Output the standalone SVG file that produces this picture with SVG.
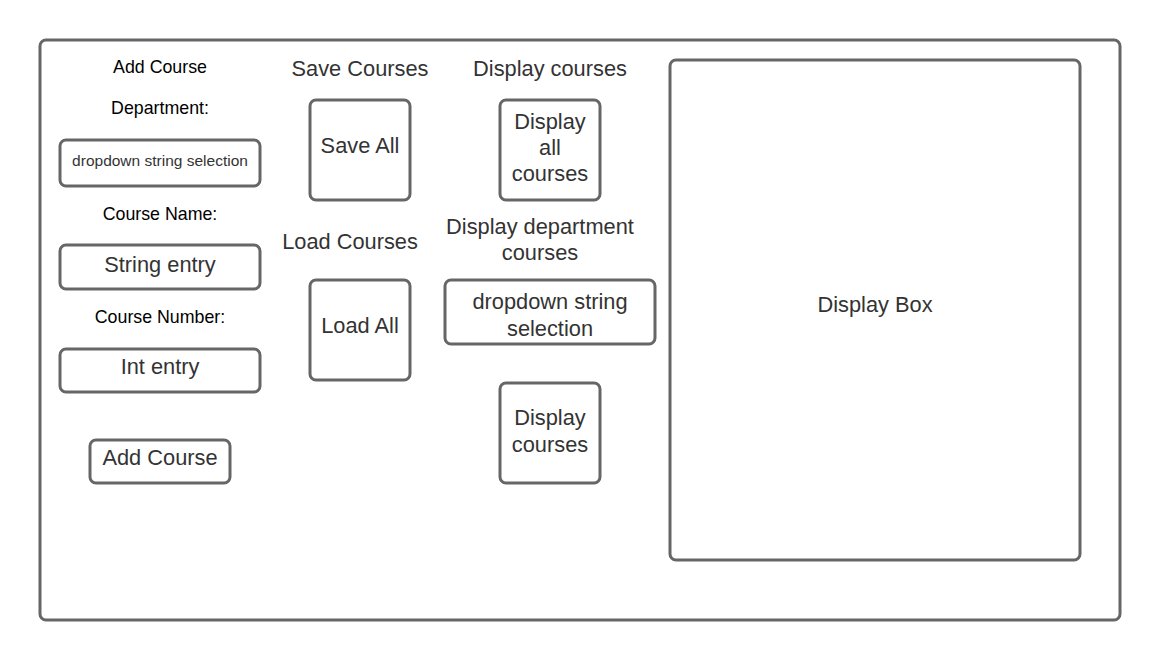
<svg xmlns="http://www.w3.org/2000/svg" width="1160" height="660" viewBox="0 0 1160 660">
<style>
.box{fill:#fff;stroke:#666;stroke-width:3}
.t{font-family:"Liberation Sans",Arial,sans-serif;fill:#333;text-anchor:middle;font-size:21.8px}
.s{font-family:"Liberation Sans",Arial,sans-serif;fill:#000;text-anchor:middle;font-size:17.8px}
.xs{font-family:"Liberation Sans",Arial,sans-serif;fill:#333;text-anchor:middle;font-size:15.5px}
</style>
<rect width="1160" height="660" fill="#fff"/>
<g id="frame"><rect class="box" x="40" y="40" width="1080" height="580" rx="6"/></g>
<g id="add-course-title"><text class="s" x="160" y="73">Add Course</text></g>
<g id="department-label"><text class="s" x="160" y="114">Department:</text></g>
<g id="department-dropdown"><rect class="box" x="60" y="140" width="200" height="46" rx="6"/><text class="xs" x="160" y="166">dropdown string selection</text></g>
<g id="course-name-label"><text class="s" x="160" y="220">Course Name:</text></g>
<g id="course-name-entry"><rect class="box" x="60" y="245" width="200" height="44" rx="6"/><text class="t" x="160" y="272">String entry</text></g>
<g id="course-number-label"><text class="s" x="160" y="323">Course Number:</text></g>
<g id="course-number-entry"><rect class="box" x="60" y="349" width="200" height="43" rx="6"/><text class="t" x="160" y="374">Int entry</text></g>
<g id="add-course-button"><rect class="box" x="90" y="440" width="140" height="43" rx="6"/><text class="t" x="160" y="465">Add Course</text></g>
<g id="save-courses-title"><text class="t" x="360" y="76">Save Courses</text></g>
<g id="save-all"><rect class="box" x="310" y="100" width="100" height="100" rx="6"/><text class="t" x="360" y="153">Save All</text></g>
<g id="load-courses-title"><text class="t" x="350" y="249">Load Courses</text></g>
<g id="load-all"><rect class="box" x="310" y="280" width="100" height="100" rx="6"/><text class="t" x="360" y="333">Load All</text></g>
<g id="display-courses-title"><text class="t" x="550" y="76">Display courses</text></g>
<g id="display-all"><rect class="box" x="500" y="100" width="100" height="100" rx="6"/><text class="t" x="550" y="129">Display</text><text class="t" x="550" y="155">all</text><text class="t" x="550" y="181">courses</text></g>
<g id="display-dept-title"><text class="t" x="540" y="234">Display department</text><text class="t" x="540" y="260">courses</text></g>
<g id="dept-dropdown"><rect class="box" x="445" y="280" width="210" height="64" rx="6"/><text class="t" x="550" y="309">dropdown string</text><text class="t" x="550" y="336">selection</text></g>
<g id="display-dept-courses"><rect class="box" x="500" y="383" width="100" height="100" rx="6"/><text class="t" x="550" y="425">Display</text><text class="t" x="550" y="452">courses</text></g>
<g id="display-box"><rect class="box" x="670" y="60" width="410" height="500" rx="6"/><text class="t" x="875" y="312">Display Box</text></g>
<g id="connectors"></g>
</svg>
